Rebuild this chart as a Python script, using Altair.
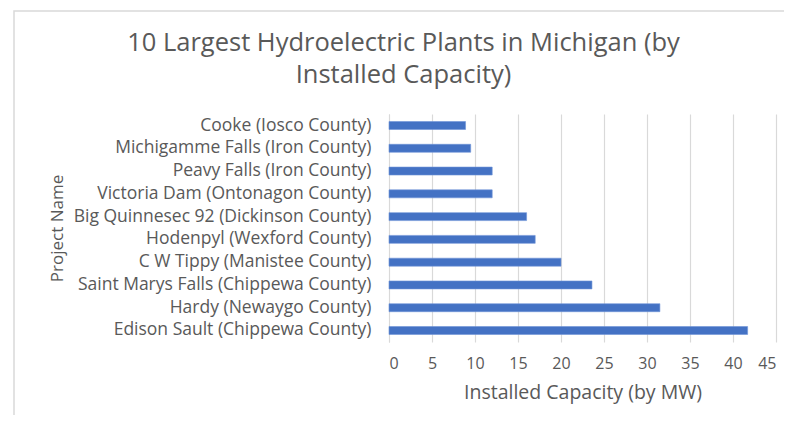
import altair as alt
import pandas as pd

projects = [
    "Cooke (Iosco County)",
    "Michigamme Falls (Iron County)",
    "Peavy Falls (Iron County)",
    "Victoria Dam (Ontonagon County)",
    "Big Quinnesec 92 (Dickinson County)",
    "Hodenpyl (Wexford County)",
    "C W Tippy (Manistee County)",
    "Saint Marys Falls (Chippewa County)",
    "Hardy (Newaygo County)",
    "Edison Sault (Chippewa County)",
]
capacity_mw = [8.9, 9.5, 12.0, 12.0, 16.0, 17.0, 20.0, 23.6, 31.5, 41.7]
x_ticks = [0, 5, 10, 15, 20, 25, 30, 35, 40, 45]

df = pd.DataFrame({"Project Name": projects, "Capacity": capacity_mw})

FONT = "Open Sans"
GREY = "#595959"

border = alt.Chart(pd.DataFrame({"k": [0]})).mark_rect(
    fillOpacity=0, stroke="#d9d9d9", strokeWidth=1.5
).encode(
    x=alt.value(-375), x2=alt.value(420), y=alt.value(-103), y2=alt.value(320)
)

bars = alt.Chart(df).mark_bar(color="#4472C4", stroke="#6f93d6", strokeWidth=0.6).encode(
    x=alt.X(
        "Capacity:Q",
        scale=alt.Scale(domain=[0, 45], nice=False),
        axis=alt.Axis(
            values=x_ticks,
            title="Installed Capacity (by MW)",
            titleFont=FONT, titleFontSize=19.5, titleFontWeight="normal", titleColor=GREY,
            titlePadding=12,
            labelFont=FONT, labelFontSize=16, labelColor=GREY, labelPadding=13,
            domain=False, ticks=False,
            grid=True, gridColor="#d9d9d9", gridWidth=1.2,
        ),
    ),
    y=alt.Y(
        "Project Name:N",
        sort=projects,
        scale=alt.Scale(paddingInner=0.65, paddingOuter=0.33),
        axis=alt.Axis(
            title="Project Name",
            titleFont=FONT, titleFontSize=17, titleFontWeight="normal", titleColor=GREY,
            titleX=-332, titleY=114, titleAngle=-90, titleAlign="center", titleBaseline="middle",
            labelFont=FONT, labelFontSize=17.5, labelColor=GREY, labelPadding=18, labelLimit=400,
            domain=True, domainColor="#d9d9d9", ticks=False,
        ),
    ),
)

chart = alt.layer(border, bars).properties(
    width=387,
    height=228,
    autosize=alt.AutoSizeParams(type="none"),
    padding={"left": 381, "top": 106, "right": 8, "bottom": 73},
    title=alt.TitleParams(
        text=["10 Largest Hydroelectric Plants in Michigan (by", "Installed Capacity)"],
        font=FONT, fontSize=25.5, fontWeight="normal", color=GREY,
        anchor="middle", frame="group", dx=-179, offset=-78, lineHeight=32,
    ),
).configure_view(stroke=None)

chart.save("out.html", embed_options={"renderer": "svg", "actions": False})
